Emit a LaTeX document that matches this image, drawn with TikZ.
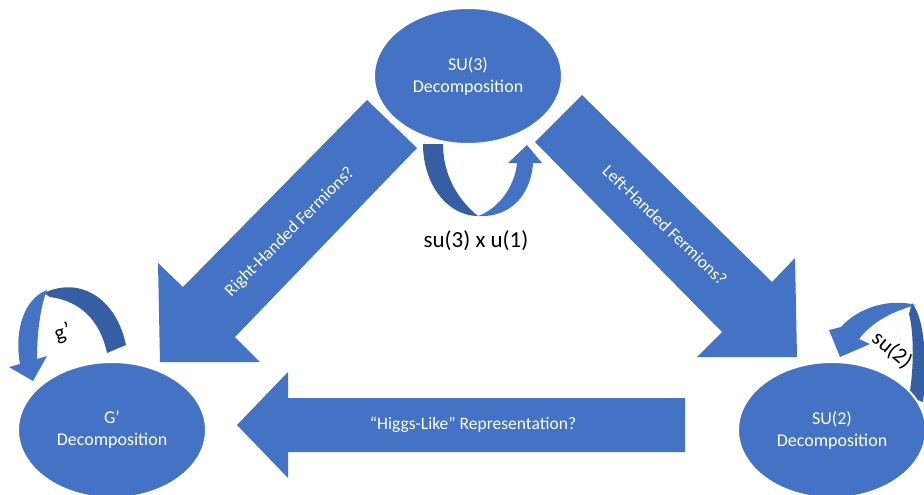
\documentclass[tikz,border=0pt]{standalone}
\usepackage{fontspec}
\setmainfont{Carlito}
\usetikzlibrary{shapes.geometric}
\definecolor{ofblue}{HTML}{4472C4}
\definecolor{ofdark}{HTML}{365FA3}
\begin{document}
\begin{tikzpicture}[x=1pt,y=-1pt,
  blob/.style={ellipse, fill=ofblue, draw=white, line width=2pt, minimum width=188pt, minimum height=136pt, inner sep=0pt, text=white, font=\fontsize{18}{22}\selectfont, align=center},
  band/.style={fill=ofblue},
  darkband/.style={fill=ofdark},
  arrowlabel/.style={text=white, inner sep=0pt, font=\fontsize{17.5}{21}\selectfont},
  looplabel/.style={text=black, inner sep=0pt, font=\fontsize{23}{27}\selectfont}]
\useasboundingbox (0,0) rectangle (924,495);

% big block arrows
\fill[band] (367,100) -- (183,287) -- (158,263) -- (160,362) -- (260,362) -- (235,337) -- (417,148) -- cycle;
\fill[band] (582,95) -- (772,282) -- (795,258) -- (797,357) -- (697,357) -- (722,332) -- (535,142) -- cycle;
\fill[band] (685,398) -- (288,398) -- (288,372) -- (237,425) -- (288,478) -- (288,452) -- (685,452) -- cycle;

% top U-turn arrow
\fill[darkband] (423,144) .. controls (423,185) and (448,216) .. (478,216) .. controls (458,200) and (443,175) .. (443,144) -- cycle;
\fill[band] (478,216) .. controls (500,208) and (515,185) .. (517,163) -- (508,163) -- (527,145) -- (542,163) -- (533,163) .. controls (531,195) and (510,218) .. (478,216) -- cycle;

% left curved arrow (g')
\fill[darkband] (44,293) .. controls (80,276) and (116,298) .. (126,345) -- (107,353) .. controls (100,320) and (80,301) .. (50,297) -- cycle;
\fill[band] (20,364) .. controls (14,330) and (24,299) .. (47,290) .. controls (41,305) and (37,330) .. (37,359) -- (47,356) -- (33,381) -- (9,367) -- cycle;

% right curved arrow (su(2))
\fill[darkband] (912,303) .. controls (926,320) and (927,370) .. (923,402) -- (909,397) .. controls (914,370) and (914,332) .. (909,314) -- cycle;
\fill[band] (841,327) .. controls (858,308) and (888,298) .. (916,305) .. controls (893,311) and (872,322) .. (859,339) -- (870,344) -- (840,357) -- (829,330) -- cycle;

% ellipses
\node[blob] (su3) at (468,76) {SU(3)\\Decomposition};
\node[blob] (gp) at (112,430) {G’\\Decomposition};
\node[blob] (su2) at (832,430) {SU(2)\\Decomposition};

% labels
\node[arrowlabel, rotate=45] (rh) at (290,232) {Right-Handed Fermions?};
\node[arrowlabel, rotate=-44] (lh) at (665,225) {Left-Handed Fermions?};
\node[arrowlabel] (higgs) at (473,425) {“Higgs-Like” Representation?};
\node[looplabel] (l3) at (476,241) {su(3) x u(1)};
\node[looplabel, font=\fontsize{22}{26}\selectfont, rotate=-40] (l2) at (892,350) {su(2)};
\node[looplabel, font=\fontsize{22}{26}\selectfont, rotate=20] (lg) at (63,333) {g’};
\end{tikzpicture}
\end{document}
